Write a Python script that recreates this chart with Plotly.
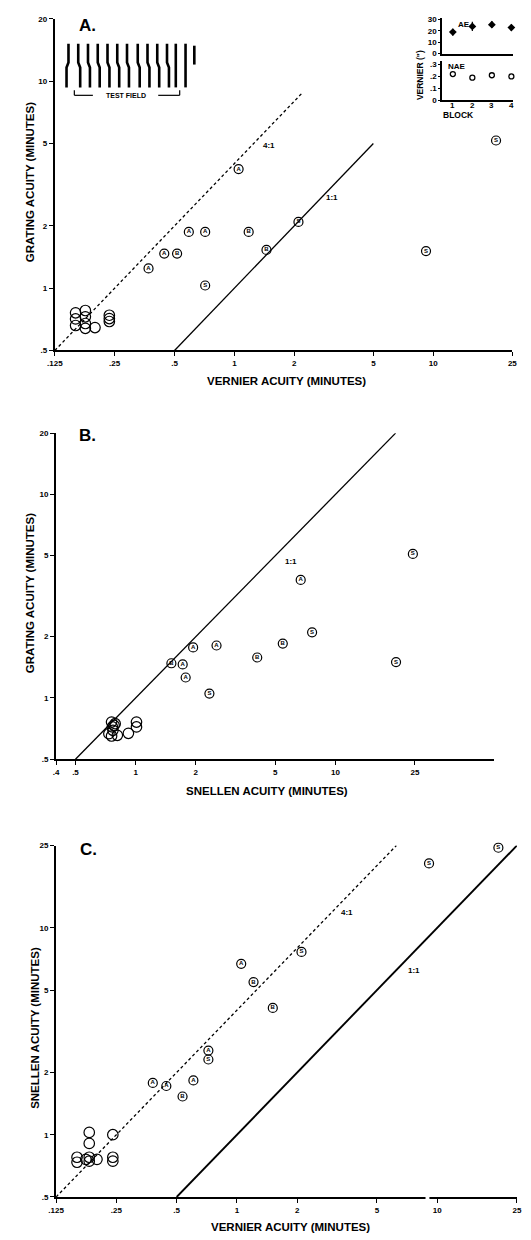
import math
import plotly.graph_objects as go

W, H = 531, 1240

# ---------------- DATA ----------------
# Panel A: grating acuity vs vernier acuity (minutes)
A_open_x = [0.159, 0.159, 0.159, 0.178, 0.178, 0.178, 0.178, 0.199, 0.235, 0.235, 0.235]
A_open_y = [0.76, 0.71, 0.66, 0.78, 0.727, 0.675, 0.64, 0.645, 0.74, 0.713, 0.69]
A_lab = ["A", "A", "B", "A", "A", "S", "B", "B", "S", "S", "A", "S"]
A_lab_x = [0.37, 0.444, 0.515, 0.59, 0.713, 0.713, 1.18, 1.45, 2.1, 9.2, 1.05, 20.7]
A_lab_y = [1.245, 1.47, 1.47, 1.87, 1.87, 1.03, 1.87, 1.53, 2.09, 1.51, 3.76, 5.17]

# Panel B: grating acuity vs Snellen acuity (minutes)
B_open_x = [0.758, 0.78, 0.79, 0.765, 0.735, 0.81, 0.758, 0.92, 1.01, 1.01, 0.77]
B_open_y = [0.761, 0.733, 0.747, 0.72, 0.667, 0.655, 0.65, 0.67, 0.761, 0.72, 0.693]
B_lab = ["S", "A", "B", "S", "S", "B", "A", "A", "B", "A", "A", "S"]
B_lab_x = [24.4, 6.7, 5.45, 7.64, 20.1, 4.06, 1.94, 2.54, 1.51, 1.72, 1.78, 2.34]
B_lab_y = [5.1, 3.8, 1.85, 2.1, 1.5, 1.58, 1.77, 1.81, 1.48, 1.46, 1.26, 1.05]

# Panel C: Snellen acuity vs vernier acuity (minutes)
C_open_x = [0.183, 0.183, 0.24, 0.159, 0.159, 0.183, 0.183, 0.176, 0.2, 0.24, 0.24]
C_open_y = [1.026, 0.908, 1.0, 0.778, 0.736, 0.778, 0.745, 0.76, 0.76, 0.778, 0.745]
C_lab = ["S", "S", "S", "B", "A", "B", "A", "S", "A", "A", "A", "B"]
C_lab_x = [20.2, 9.1, 2.1, 1.51, 1.05, 1.21, 0.72, 0.72, 0.606, 0.38, 0.444, 0.535]
C_lab_y = [24.4, 20.5, 7.65, 4.1, 6.7, 5.47, 2.55, 2.31, 1.83, 1.78, 1.72, 1.53]

# Reference lines: (ratio, x start, x end)
A_lines = [(4, 0.125, 2.2), (1, 0.5, 5.0)]
B_lines = [(1, 0.5, 20.0)]
C_lines = [(4, 0.125, 6.25), (1, 0.5, 25.0)]

# Inset: vernier (arc sec) by block
blocks = [1, 2, 3, 4]
block_txt = ["1", "2", "3", "4"]
AE_vernier = [19, 24, 25.5, 23]
AE_err = [3, 4, 3, 3]
NAE_vernier = [0.22, 0.19, 0.21, 0.20]

# Tick labels
ticks_vern = [0.125, 0.25, 0.5, 1, 2, 5, 10, 25]
ticks_vern_txt = [".125", ".25", ".5", "1", "2", "5", "10", "25"]
ticks_grat = [0.5, 1, 2, 5, 10, 20]
ticks_grat_txt = [".5", "1", "2", "5", "10", "20"]
ticks_snel_x = [0.4, 0.5, 1, 2, 5, 10, 25]
ticks_snel_x_txt = [".4", ".5", "1", "2", "5", "10", "25"]
ticks_snel_y = [0.5, 1, 2, 5, 10, 25]
ticks_snel_y_txt = [".5", "1", "2", "5", "10", "25"]

# ---------------- FIGURE ----------------
FONT = "Liberation Sans"
fig = go.Figure()


def PX(x):
    return x / W


def PY(y):
    return 1 - y / H


def add_panel(xa, ya, ox, oy, lab, lx, ly, lines, solid_w):
    for ratio, x0, x1 in lines:
        fig.add_trace(go.Scatter(
            x=[x0, x1], y=[ratio * x0, ratio * x1], mode="lines",
            line=dict(color="black", width=(1.3 if ratio != 1 else solid_w),
                      dash=("3px,2.6px" if ratio != 1 else "solid")),
            xaxis=xa, yaxis=ya, showlegend=False, hoverinfo="skip"))
    fig.add_trace(go.Scatter(
        x=ox, y=oy, mode="markers",
        marker=dict(symbol="circle-open", size=10.5, color="black", line=dict(width=1.2)),
        xaxis=xa, yaxis=ya, showlegend=False, cliponaxis=False))
    fig.add_trace(go.Scatter(
        x=lx, y=ly, mode="markers+text", text=["<b>%s</b>" % t for t in lab],
        textposition="middle center",
        textfont=dict(family=FONT, size=6, color="black"),
        marker=dict(symbol="circle-open", size=9, color="black", line=dict(width=1.2)),
        xaxis=xa, yaxis=ya, showlegend=False, cliponaxis=False))


add_panel("x", "y", A_open_x, A_open_y, A_lab, A_lab_x, A_lab_y, A_lines, 1.3)
add_panel("x2", "y2", B_open_x, B_open_y, B_lab, B_lab_x, B_lab_y, B_lines, 1.3)
add_panel("x3", "y3", C_open_x, C_open_y, C_lab, C_lab_x, C_lab_y, C_lines, 1.9)

# Inset traces
fig.add_trace(go.Scatter(
    x=blocks, y=AE_vernier, mode="markers",
    marker=dict(symbol="diamond", size=6, color="black"),
    error_y=dict(type="data", array=AE_err, color="black", thickness=1.2, width=0),
    xaxis="x4", yaxis="y4", showlegend=False, cliponaxis=False))
fig.add_trace(go.Scatter(
    x=blocks, y=NAE_vernier, mode="markers",
    marker=dict(symbol="circle-open", size=5, color="black", line=dict(width=1.3)),
    xaxis="x5", yaxis="y5", showlegend=False, cliponaxis=False))

tickfont = dict(family=FONT, size=8, color="black", weight="bold")
base = dict(showline=True, linecolor="black", linewidth=2, ticks="outside", ticklen=4,
            tickwidth=1.4, tickcolor="black", showgrid=False, zeroline=False,
            tickfont=tickfont, fixedrange=True, mirror=False)
L = math.log10

fig.update_layout(
    width=W, height=H, margin=dict(l=0, r=0, t=0, b=0),
    paper_bgcolor="white", plot_bgcolor="white", showlegend=False,
    xaxis=dict(base, type="log", domain=[PX(48), PX(517)], range=[L(0.125), L(25)],
               tickvals=ticks_vern, ticktext=ticks_vern_txt, anchor="y"),
    yaxis=dict(base, type="log", domain=[PY(349), PY(15)], range=[L(0.5), L(20)],
               tickvals=ticks_grat, ticktext=ticks_grat_txt, anchor="x"),
    xaxis2=dict(base, type="log", domain=[PX(49.3), PX(498)], range=[L(0.4), L(62)],
                tickvals=ticks_snel_x, ticktext=ticks_snel_x_txt, anchor="y2"),
    yaxis2=dict(base, type="log", domain=[PY(760.7), PY(432.3)], range=[L(0.5), L(20)],
                tickvals=ticks_grat, ticktext=ticks_grat_txt, anchor="x2"),
    xaxis3=dict(base, type="log", domain=[PX(49.3), PX(521.7)], range=[L(0.125), L(25)],
                tickvals=ticks_vern, ticktext=ticks_vern_txt, anchor="y3"),
    yaxis3=dict(base, type="log", domain=[PY(1201.7), PY(847.7)], range=[L(0.5), L(25)],
                tickvals=ticks_snel_y, ticktext=ticks_snel_y_txt, anchor="x3"),
    xaxis4=dict(base, domain=[PX(445), PX(518)], range=[0.45, 4.1], anchor="y4",
                showticklabels=False, ticks="", linewidth=1.6),
    yaxis4=dict(base, domain=[PY(50), PY(14)], range=[0, 31.5], anchor="x4",
                tickvals=[0, 10, 20, 30], ticklen=2, linewidth=1.6),
    xaxis5=dict(base, domain=[PX(445), PX(518)], range=[0.45, 4.1], anchor="y5",
                showticklabels=False, ticks="", linewidth=1.6),
    yaxis5=dict(base, domain=[PY(97), PY(57)], range=[0, 0.333], anchor="x5",
                tickvals=[0, 0.1, 0.2, 0.3], ticktext=["0", ".1", ".2", ".3"],
                ticklen=2, linewidth=1.6),
)

ann = []


def tpx(text, x, y, size, angle=0, xanchor="center"):
    ann.append(dict(text=text, x=PX(x), y=PY(y), xref="paper", yref="paper",
                    showarrow=False, textangle=angle, xanchor=xanchor, yanchor="middle",
                    font=dict(family=FONT, size=size, color="black")))


def tdat(text, xa, ya, x, y, size=8):
    ann.append(dict(text=text, x=L(x), y=L(y), xref=xa, yref=ya, showarrow=False,
                    font=dict(family=FONT, size=size, color="black")))


# panel letters
tpx("<b>A.</b>", 82, 22, 17)
tpx("<b>B.</b>", 82, 435, 17)
tpx("<b>C.</b>", 83, 852, 17)
# axis titles
tpx("<b>VERNIER ACUITY (MINUTES)</b>", 286, 380, 11.5)
tpx("<b>SNELLEN ACUITY (MINUTES)</b>", 265, 793, 11.5)
tpx("<b>VERNIER ACUITY (MINUTES)</b>", 290, 1232, 11.5)
tpx("<b>GRATING ACUITY (MINUTES)</b>", 22, 179, 11.5, -90)
tpx("<b>GRATING ACUITY (MINUTES)</b>", 22, 593, 11.5, -90)
tpx("<b>SNELLEN ACUITY (MINUTES)</b>", 27, 1031, 11.5, -90)
# line labels
tdat("<b>4:1</b>", "x", "y", 1.5, 4.9)
tdat("<b>1:1</b>", "x", "y", 3.1, 2.75)
tdat("<b>1:1</b>", "x2", "y2", 6.0, 4.66)
tdat("<b>4:1</b>", "x3", "y3", 3.54, 11.9)
tdat("<b>1:1</b>", "x3", "y3", 7.64, 6.24)
# inset texts
tpx("<b>AE</b>", 467, 21, 8)
tpx("<b>NAE</b>", 460, 63, 8)
tpx("<b>BLOCK</b>", 462, 112, 8.5)
tpx('<b>VERNIER (")</b>', 423, 72, 8.5, -90)
for b, t in zip(blocks, block_txt):
    ann.append(dict(text="<b>%s</b>" % t, x=b, y=PY(102), xref="x5", yref="paper",
                    showarrow=False, yanchor="middle",
                    font=dict(family=FONT, size=8, color="black")))
# test field label
tpx("<b>TEST FIELD</b>", 121, 92, 7)

fig.update_layout(annotations=ann)

# Test-field illustration (schematic vernier bars)
bar_x = [62, 72, 82, 92, 102, 112, 122, 133, 143, 153, 163, 172, 182]
bar_shift = [-2, 2, 2, 2, 2, 2, 2, 2, 2, 2, 2, 0, 0]
shapes = []
for bx, s in zip(bar_x, bar_shift):
    path = "M %f %f L %f %f L %f %f L %f %f" % (
        PX(bx), PY(40), PX(bx), PY(59), PX(bx + s), PY(64), PX(bx + s), PY(84))
    shapes.append(dict(type="path", path=path, xref="paper", yref="paper",
                       line=dict(color="black", width=2.6)))
shapes.append(dict(type="line", xref="paper", yref="paper", x0=PX(191), x1=PX(191),
                   y0=PY(42), y1=PY(61), line=dict(color="black", width=2.6)))
for (x0, x1) in [(68, 87), (154, 176)]:
    shapes.append(dict(type="line", xref="paper", yref="paper", x0=PX(x0), x1=PX(x1),
                       y0=PY(92), y1=PY(92), line=dict(color="black", width=1.2)))
for xe in [68, 176]:
    shapes.append(dict(type="line", xref="paper", yref="paper", x0=PX(xe), x1=PX(xe),
                       y0=PY(87), y1=PY(92), line=dict(color="black", width=1.2)))
# axis break on panel C x axis
shapes.append(dict(type="rect", xref="paper", yref="paper", x0=PX(428), x1=PX(432),
                   y0=PY(1205), y1=PY(1199), fillcolor="white", line=dict(width=0),
                   layer="above"))
fig.update_layout(shapes=shapes)

fig.write_html("out.html")
